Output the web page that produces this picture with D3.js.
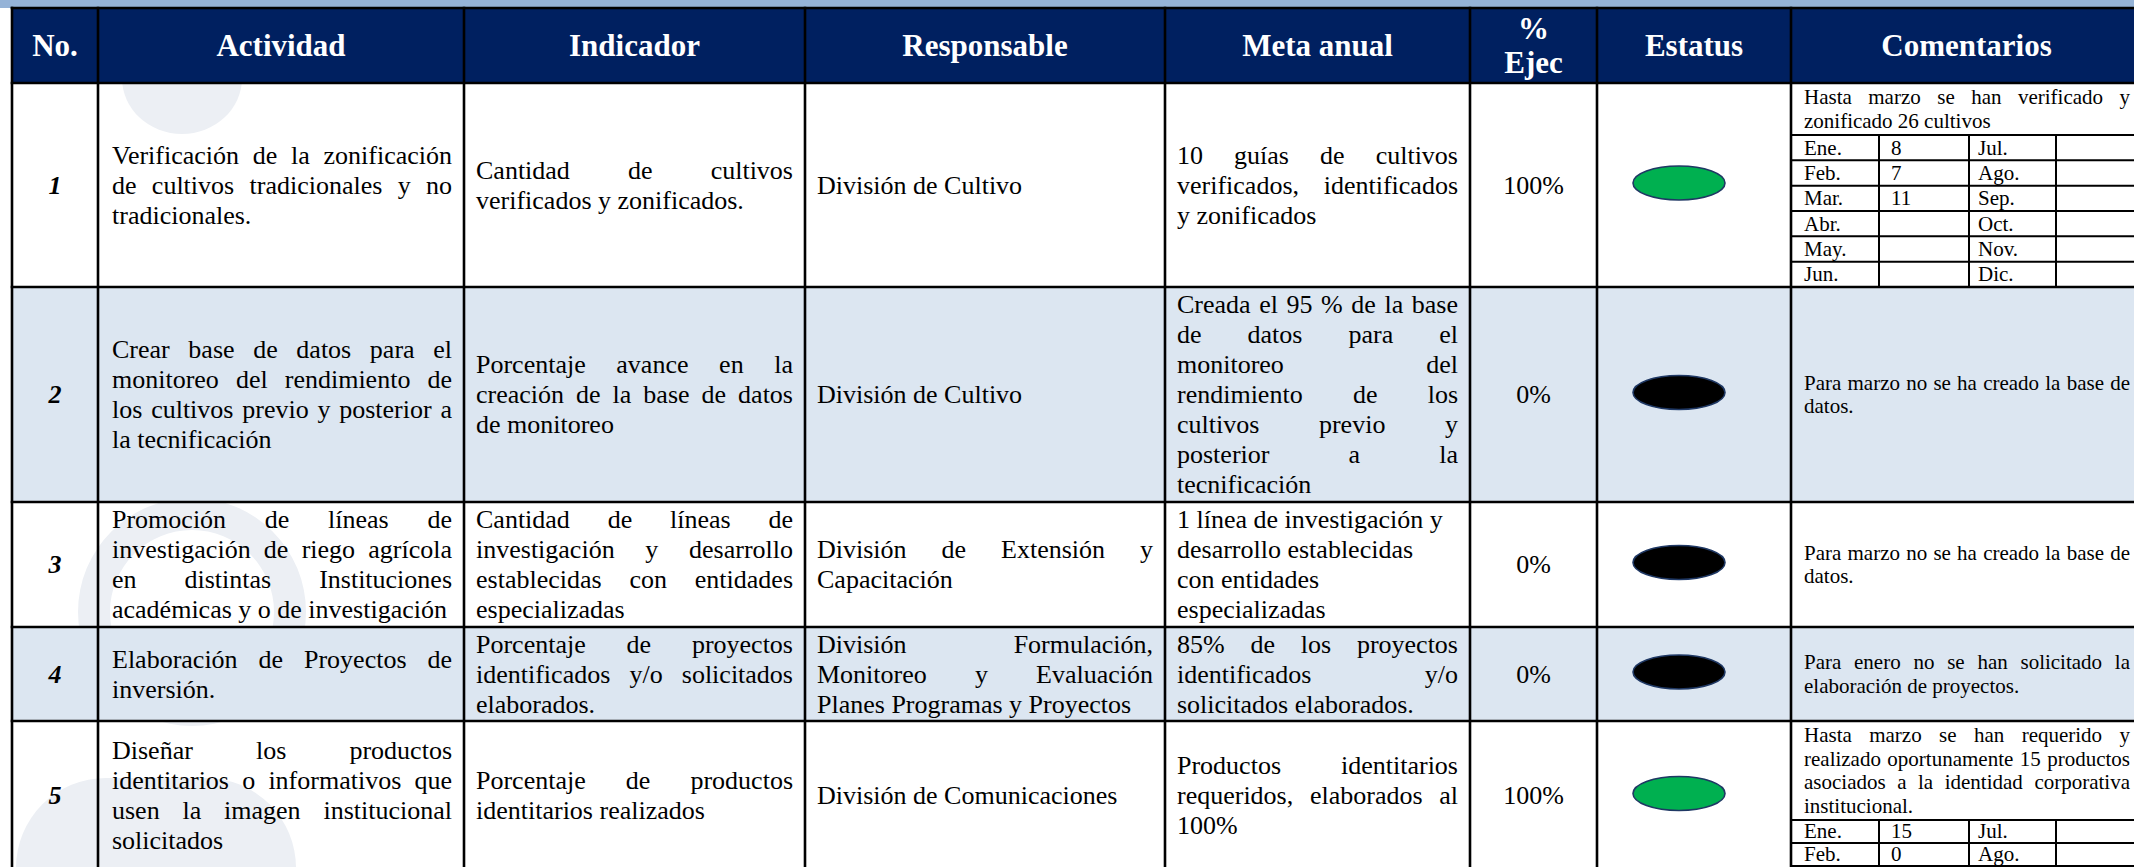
<!DOCTYPE html>
<html><head><meta charset="utf-8">
<script src="https://cdn.jsdelivr.net/npm/d3@7"></script>
<style>html,body{margin:0;padding:0;background:#fff;overflow:hidden}</style>
</head><body>
<svg id="c" width="2134" height="867"></svg>
<script>
// ---------- DATA ----------
const encabezados = ["No.", "Actividad", "Indicador", "Responsable", "Meta anual", "% Ejec", "Estatus", "Comentarios"];
const numeros = ["1", "2", "3", "4", "5"];
const actividades = [
  ["Verificación de la zonificación", "de cultivos tradicionales y no", "tradicionales."],
  ["Crear base de datos para el", "monitoreo del rendimiento de", "los cultivos previo y posterior a", "la tecnificación"],
  ["Promoción de líneas de", "investigación de riego agrícola", "en distintas Instituciones", "académicas y o de investigación"],
  ["Elaboración de Proyectos de", "inversión."],
  ["Diseñar los productos", "identitarios o informativos que", "usen la imagen institucional", "solicitados"]
];
const indicadores = [
  ["Cantidad de cultivos", "verificados y zonificados."],
  ["Porcentaje avance en la", "creación de la base de datos", "de monitoreo"],
  ["Cantidad de líneas de", "investigación y desarrollo", "establecidas con entidades", "especializadas"],
  ["Porcentaje de proyectos", "identificados y/o solicitados", "elaborados."],
  ["Porcentaje de productos", "identitarios realizados"]
];
const responsables = [
  ["División de Cultivo"],
  ["División de Cultivo"],
  ["División de Extensión y", "Capacitación"],
  ["División Formulación,", "Monitoreo y Evaluación", "Planes Programas y Proyectos"],
  ["División de Comunicaciones"]
];
const metas = [
  ["10 guías de cultivos", "verificados, identificados", "y zonificados"],
  ["Creada el 95 % de la base", "de datos para el", "monitoreo del", "rendimiento de los", "cultivos previo y", "posterior a la", "tecnificación"],
  ["1 línea de investigación y", "desarrollo establecidas", "con entidades", "especializadas"],
  ["85% de los proyectos", "identificados y/o", "solicitados elaborados."],
  ["Productos identitarios", "requeridos, elaborados al", "100%"]
];
const metaJustificada = [true, true, false, true, true];
const ejecucion = ["100%", "0%", "0%", "0%", "100%"];
const estatus = ["verde", "negro", "negro", "negro", "verde"];
const comentarios = [
  ["Hasta marzo se han verificado y", "zonificado 26 cultivos"],
  ["Para marzo no se ha creado la base de", "datos."],
  ["Para marzo no se ha creado la base de", "datos."],
  ["Para enero no se han solicitado la", "elaboración de proyectos."],
  ["Hasta marzo se han requerido y", "realizado oportunamente 15 productos", "asociados a la identidad corporativa", "institucional."]
];
const mesesIzq = ["Ene.", "Feb.", "Mar.", "Abr.", "May.", "Jun."];
const mesesDer = ["Jul.", "Ago.", "Sep.", "Oct.", "Nov.", "Dic."];
const valoresIzq = [["8", "7", "11", "", "", ""], null, null, null, ["15", "0", "", "", "", ""]];
const valoresDer = [["", "", "", "", "", ""], null, null, null, ["", "", "", "", "", ""]];

// ---------- LAYOUT ----------
const W = 2134, H = 867;
const colEdges = [12, 98, 464, 805, 1165, 1470, 1597, 1791, 2170];
const rowEdges = [8, 83, 287, 502, 627, 721, 870];
const mesCols = [1791, 1879, 1969, 2056, 2170];
const FONT = "'Liberation Serif','Times New Roman',serif";
const fBody = 26, LBody = 30, fCom = 21, LCom = 23.5, fHead = 31;
const PAD = 12;
const colores = { band: "#95B3D7", head: "#002060", alt: "#DCE6F1", verde: "#00B050", negro: "#000000", marca: "#ECEFF4" };

const xCol = d3.scaleOrdinal().domain(d3.range(colEdges.length)).range(colEdges);
const yRow = d3.scaleOrdinal().domain(d3.range(rowEdges.length)).range(rowEdges);

const svg = d3.select("#c");
svg.append("rect").attr("width", W).attr("height", H).attr("fill", "#fff");

const meas = svg.append("text").attr("x", -9999).attr("y", -9999).style("font-family", FONT);
function measure(w, f, weight) {
  meas.style("font-size", f + "px").style("font-weight", weight || "normal").text(w);
  return meas.node().getComputedTextLength();
}

// watermark (behind shading)
const wm = svg.append("g").attr("fill", colores.marca);
wm.append("ellipse").attr("cx", 182).attr("cy", 78).attr("rx", 60).attr("ry", 56);
wm.append("path").attr("d", d3.arc()({ innerRadius: 82, outerRadius: 114, startAngle: -Math.PI, endAngle: Math.PI }))
  .attr("transform", "translate(192,612)");
wm.append("rect").attr("x", 16).attr("y", 778).attr("width", 280).attr("height", 200).attr("rx", 90);

// top band
svg.append("rect").attr("x", 0).attr("y", 0).attr("width", W).attr("height", rowEdges[0]).attr("fill", colores.band);
// header fill
svg.append("rect").attr("x", xCol(0)).attr("y", yRow(0)).attr("width", W - xCol(0)).attr("height", yRow(1) - yRow(0)).attr("fill", colores.head);
// alternate row shading
numeros.forEach((n, i) => {
  if (i % 2 === 1) {
    svg.append("rect").attr("x", xCol(0)).attr("y", yRow(i + 1)).attr("width", W - xCol(0))
      .attr("height", yRow(i + 2) - yRow(i + 1)).attr("fill", colores.alt);
  }
});

const txt = svg.append("g").style("font-family", FONT).attr("fill", "#000");

function drawLines(lines, x0, x1, yTopOrCenter, f, L, opts) {
  const n = lines.length;
  const top = opts.top ? yTopOrCenter : yTopOrCenter - n * L / 2;
  lines.forEach((ln, i) => {
    const base = top + i * L + L / 2 + 0.33 * f;
    const t = txt.append("text").attr("y", base).style("font-size", f + "px");
    if (opts.weight) t.style("font-weight", opts.weight);
    if (opts.italic) t.style("font-style", "italic");
    if (opts.fill) t.attr("fill", opts.fill);
    if (opts.align === "center") { t.attr("x", (x0 + x1) / 2).attr("text-anchor", "middle").text(ln); return; }
    const justify = opts.justify && i < n - 1 && ln.indexOf(" ") >= 0;
    if (!justify) { t.attr("x", x0).text(ln); return; }
    const words = ln.split(" ");
    const widths = words.map(w => measure(w, f, opts.weight));
    const gap = (x1 - x0 - d3.sum(widths)) / (words.length - 1);
    let cx = x0;
    words.forEach((w, j) => { t.append("tspan").attr("x", cx).text(w); cx += widths[j] + gap; });
  });
}

// header texts
encabezados.forEach((h, j) => {
  const lines = h === "% Ejec" ? ["%", "Ejec"] : [h];
  const cy = (yRow(0) + yRow(1)) / 2;
  drawLines(lines, xCol(j), j === 7 ? 2134 + 8 : xCol(j + 1), cy, fHead, 34,
    { align: "center", weight: "bold", fill: "#fff" });
});

// body rows
numeros.forEach((num, i) => {
  const r0 = yRow(i + 1), r1 = yRow(i + 2);
  const cy = (r0 + r1) / 2;
  drawLines([num], xCol(0), xCol(1), cy, fBody, LBody, { align: "center", weight: "bold", italic: true });
  drawLines(actividades[i], xCol(1) + PAD + 2, xCol(2) - PAD, cy, fBody, LBody, { justify: true });
  drawLines(indicadores[i], xCol(2) + PAD, xCol(3) - PAD, cy, fBody, LBody, { justify: true });
  drawLines(responsables[i], xCol(3) + PAD, xCol(4) - PAD, cy, fBody, LBody, { justify: true });
  drawLines(metas[i], xCol(4) + PAD, xCol(5) - PAD, cy, fBody, LBody, { justify: metaJustificada[i] });
  drawLines([ejecucion[i]], xCol(5), xCol(6), cy, fBody, LBody, { align: "center" });

  // status ellipse
  svg.append("ellipse").attr("cx", (xCol(6) + xCol(7)) / 2 - 15).attr("cy", cy - 2).attr("rx", 46).attr("ry", 17)
    .attr("fill", colores[estatus[i]]).attr("stroke", "#1F3864").attr("stroke-width", 1.6);

  // comments
  const cx0 = xCol(7) + 13, cx1 = 2130;
  if (valoresIzq[i]) {
    drawLines(comentarios[i], cx0, cx1, r0 + 2.5, fCom, LCom, { justify: true, top: true });
    const sep = r0 + 5 + comentarios[i].length * LCom;
    const rowH = i === 0 ? (r1 - sep) / 6 : 23;
    const gl = svg.append("g").attr("stroke", "#000").attr("stroke-width", 2);
    for (let k = 0; k <= 6; k++) {
      gl.append("line").attr("x1", mesCols[0]).attr("x2", mesCols[4]).attr("y1", sep + k * rowH).attr("y2", sep + k * rowH);
    }
    [1, 2, 3].forEach(c => gl.append("line").attr("x1", mesCols[c]).attr("x2", mesCols[c])
      .attr("y1", sep).attr("y2", sep + 6 * rowH));
    mesesIzq.forEach((m, k) => {
      const yb = sep + k * rowH + rowH / 2 + 0.33 * fCom;
      if (yb > H) return; // rows below the visible page are not shown
      txt.append("text").attr("x", mesCols[0] + 13).attr("y", yb).style("font-size", fCom + "px").text(m);
      txt.append("text").attr("x", mesCols[1] + 12).attr("y", yb).style("font-size", fCom + "px").text(valoresIzq[i][k]);
      txt.append("text").attr("x", mesCols[2] + 9).attr("y", yb).style("font-size", fCom + "px").text(mesesDer[k]);
      txt.append("text").attr("x", mesCols[3] + 10).attr("y", yb).style("font-size", fCom + "px").text(valoresDer[i][k]);
    });
  } else {
    drawLines(comentarios[i], cx0, cx1, cy, fCom, LCom, { justify: true });
  }
});

// grid lines
const grid = svg.append("g").attr("stroke", "#000").attr("stroke-width", 2.6).attr("stroke-linecap", "square");
rowEdges.forEach(y => grid.append("line").attr("x1", xCol(0)).attr("x2", W + 10).attr("y1", y).attr("y2", y));
colEdges.forEach(x => grid.append("line").attr("x1", x).attr("x2", x).attr("y1", yRow(0)).attr("y2", H + 10));
meas.remove();
</script>
</body></html>
